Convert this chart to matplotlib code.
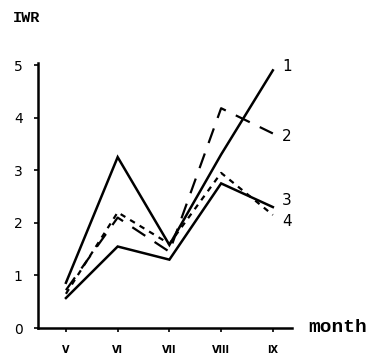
import matplotlib
matplotlib.use("Agg")
import matplotlib.pyplot as plt

months = ["V", "VI", "VII", "VIII", "IX"]
s1 = [0.86, 3.25, 1.58, 3.3, 4.9]
s2 = [0.72, 2.1, 1.45, 4.18, 3.7]
s3 = [0.65, 2.2, 1.6, 2.95, 2.15]
s4 = [0.57, 1.55, 1.3, 2.75, 2.3]
yticks = [0, 1, 2, 3, 4, 5]
series_labels = ["1", "2", "4", "3"]

fig = plt.figure(figsize=(3.73, 3.54), dpi=100)
ax = fig.add_axes([38/373, 26/354, 254/373, 265/354])
x = list(range(len(months)))
ax.plot(x, s1, color="black", lw=1.8, solid_joinstyle="miter")
ax.plot(x, s2, color="black", lw=1.6, dashes=(7, 5))
ax.plot(x, s3, color="black", lw=1.6, dashes=(2.5, 2.5))
ax.plot(x, s4, color="black", lw=1.8, solid_joinstyle="miter")

ax.set_xlim(-0.54, 4.37)
ax.set_ylim(0, 5.04)
ax.set_xticks(x)
ax.set_xticklabels(months, fontsize=7, fontweight="bold", family="DejaVu Sans")
ax.set_yticks(yticks)
ax.set_yticklabels([str(v) for v in yticks], fontsize=10, family="DejaVu Sans")
ax.tick_params(axis="both", direction="out", length=3, width=1.2)
ax.tick_params(axis="x", pad=9)
ax.tick_params(axis="y", pad=8)
ax.spines["top"].set_visible(False)
ax.spines["right"].set_visible(False)
ax.spines["left"].set_linewidth(1.8)
ax.spines["bottom"].set_linewidth(1.8)

ends = [s1[-1], s2[-1], s3[-1], s4[-1]]
offs = [0.08, -0.05, -0.12, 0.12]
for lab, v, o in zip(series_labels, ends, offs):
    ax.text(4.18, v + o, lab, fontsize=11, ha="left", va="center")

fig.text(13/373, 1 - 18/354, "IWR", fontsize=11, fontweight="bold",
         family="Liberation Mono", ha="left", va="center")
fig.text(308/373, 1 - 328/354, "month", fontsize=14, fontweight="bold",
         family="Liberation Mono", ha="left", va="center")

fig.savefig("out.png", dpi=100)
